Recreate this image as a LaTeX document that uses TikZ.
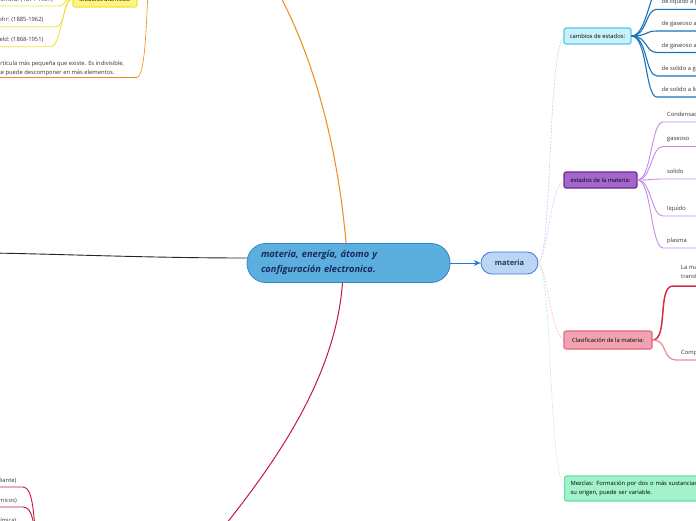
\documentclass[tikz,border=0pt]{standalone}
\usepackage{fontspec}
\setmainfont{Open Sans}
\usepackage{xcolor}
\usetikzlibrary{arrows.meta, positioning}

\definecolor{corefill}{HTML}{5BAFDE}
\definecolor{coreedge}{HTML}{2E86C1}
\definecolor{corenavy}{HTML}{1B2A5C}
\definecolor{hubfill}{HTML}{BDD5F5}
\definecolor{hubedge}{HTML}{3579DE}
\definecolor{hubtext}{HTML}{1D3C57}
\definecolor{arrowblue}{HTML}{1C78E3}
\definecolor{cyanfill}{HTML}{C8F1FC}
\definecolor{cyanedge}{HTML}{58C5EC}
\definecolor{cambline}{HTML}{1A72B8}
\definecolor{cyanlink}{HTML}{A6DCF2}
\definecolor{purplefill}{HTML}{A465CC}
\definecolor{purpleedge}{HTML}{6A2B8E}
\definecolor{estline}{HTML}{C48CEA}
\definecolor{purplelink}{HTML}{E2C9F2}
\definecolor{pinkfill}{HTML}{F2A3B1}
\definecolor{pinkedge}{HTML}{E5657D}
\definecolor{redtwig}{HTML}{D92B4B}
\definecolor{pinktwig}{HTML}{F28A9E}
\definecolor{pinklink}{HTML}{F7C2CB}
\definecolor{mintfill}{HTML}{A2F2CB}
\definecolor{mintedge}{HTML}{66DDAA}
\definecolor{mintlink}{HTML}{B5EFD6}
\definecolor{atomorange}{HTML}{F08A1C}
\definecolor{modelyellow}{HTML}{F1E33F}
\definecolor{modelfill}{HTML}{FFF47F}
\definecolor{crimson}{HTML}{C4173C}
\definecolor{leafgray}{HTML}{333333}

\newcommand{\leaffont}{\fontsize{5.8}{9}\selectfont}

\begin{document}
\begin{tikzpicture}[x=1pt, y=-1pt,
    >={Stealth[length=2.4mm, width=2mm]},
    core/.style={draw=coreedge, fill=corefill, line width=.8pt,
                 rounded corners=19pt, minimum width=203pt, minimum height=39pt,
                 text width=175pt, align=left, inner sep=0pt, text=corenavy,
                 font=\fontsize{9.3}{15}\selectfont\bfseries\itshape},
    hub/.style={draw=hubedge, fill=hubfill, line width=.8pt, rounded corners=11pt,
                minimum width=57pt, minimum height=22pt, inner sep=0pt,
                text=hubtext, font=\fontsize{7.4}{9}\selectfont\bfseries},
    topic/.style={rounded corners=2pt, line width=1.1pt, minimum height=16pt,
                  inner sep=0pt, text=black, font=\leaffont},
    leaf/.style={anchor=base west, inner sep=0pt, font=\leaffont, text=leafgray},
    twig/.style={line width=1.1pt},
    link/.style={dash pattern=on 2pt off 1.2pt, line width=.6pt},
]
  \fill[white] (0,0) rectangle (696,520);
  \useasboundingbox (0,0) rectangle (696,520);

  % main branches
  \node[core] (core) at (348.5,263) {materia, energía, átomo y\\configuración electronica.};
  \node[hub] (materia) at (509.5,263) {materia};
  \coordinate (atomo) at (278,-8);
  \coordinate (energia) at (-10,253);
  \coordinate (config) at (226,524);
  \draw[atomorange, line width=1pt] (core.97) .. controls (338,150) and (315,60) .. (atomo);
  \draw[black!85, line width=.9pt] ([yshift=5pt]core.west) .. controls (150,258) and (60,254) .. (energia);
  \draw[crimson, line width=1pt] ([xshift=-6pt]core.south) .. controls (336,370) and (285,450) .. (config);
  \draw[->, arrowblue, line width=1pt] (core.east) -- (materia.west);

  % materia topics
  \node[topic, fill=cyanfill, draw=cyanedge, minimum width=67pt] (cambios) at (597.5,36) {cambios de estados:};
  \node[topic, fill=purplefill, draw=purpleedge, minimum width=73pt] (estados) at (600.5,180) {estados de la materia:};
  \node[topic, fill=pinkfill, draw=pinkedge, minimum width=88pt, minimum height=18pt] (clasif) at (608,340) {Clasificación de la materia:};
  \node[topic, fill=mintfill, draw=mintedge, anchor=west, minimum height=25pt,
        text width=150pt, align=left, inner xsep=6pt] (mezclas) at (564,488.5)
        {Mezclas: Formación por dos o más sustancias\\su origen, puede ser variable.};
  \draw[link, cyanlink] (materia.east) .. controls +(14,-13) and +(-16,24) .. (cambios.west);
  \draw[link, purplelink] (materia.east) .. controls +(10,-10) and +(-14,12) .. (estados.west);
  \draw[link, pinklink] (materia.east) .. controls +(10,10) and +(-14,-12) .. (clasif.west);
  \draw[link, mintlink] (materia.east) .. controls +(14,14) and +(-16,-30) .. (mezclas.west);

  % cambios de estados
  \coordinate (c0) at (662,-16);
  \coordinate (c1) at (657,9.3);
  \coordinate (c2) at (657,31);
  \coordinate (c3) at (657,52.5);
  \coordinate (c4) at (657,76);
  \coordinate (c5) at (657,97);
  \node[leaf] (liqgas) at (661.5,3.8) {de liquido a gaseoso};
  \node[leaf] (gasliq) at (661.5,25.5) {de gaseoso a liquido};
  \node[leaf] (gassol) at (661.5,47) {de gaseoso a solido};
  \node[leaf] (solgas) at (661.5,70.5) {de solido a gaseoso};
  \node[leaf] (solliq) at (661.5,91.5) {de solido a liquido};
  \draw[twig, cambline] (cambios.east) .. controls +(16,0) and +(-12,0) .. (c0);
  \draw[twig, cambline] (cambios.east) .. controls +(16,0) and +(-12,0) .. (c1) -- ++(50,0);
  \draw[twig, cambline] (cambios.east) .. controls +(16,0) and +(-12,0) .. (c2) -- ++(50,0);
  \draw[twig, cambline] (cambios.east) .. controls +(16,0) and +(-12,0) .. (c3) -- ++(50,0);
  \draw[twig, cambline] (cambios.east) .. controls +(16,0) and +(-12,0) .. (c4) -- ++(50,0);
  \draw[twig, cambline] (cambios.east) .. controls +(16,0) and +(-12,0) .. (c5) -- ++(50,0);

  % estados de la materia
  \coordinate (e1) at (663,122);
  \coordinate (e2) at (663,146.5);
  \coordinate (e3) at (663,179);
  \coordinate (e4) at (663,216);
  \coordinate (e5) at (663,248);
  \node[leaf] (condensado) at (667,116.3) {Condensado de Bose-Einstein};
  \node[leaf] (gaseoso) at (667,140.5) {gaseoso};
  \node[leaf] (solido) at (667,173) {solido};
  \node[leaf] (liquido) at (667,210) {liquido};
  \node[leaf] (plasma) at (667,242.5) {plasma};
  \draw[estline, line width=.9pt] (estados.east) .. controls +(14,0) and +(-12,0) .. (e1) -- ++(40,0);
  \draw[estline, line width=.9pt] (estados.east) .. controls +(14,0) and +(-12,0) .. (e2) -- ++(40,0);
  \draw[estline, line width=.9pt] (estados.east) .. controls +(14,0) and +(-12,0) .. (e3) -- ++(40,0);
  \draw[estline, line width=.9pt] (estados.east) .. controls +(14,0) and +(-12,0) .. (e4) -- ++(40,0);
  \draw[estline, line width=.9pt] (estados.east) .. controls +(14,0) and +(-12,0) .. (e5) -- ++(40,0);

  % clasificacion
  \coordinate (k1) at (673,286);
  \coordinate (k2) at (677,360);
  \node[leaf, align=left, anchor=north west] (ley) at (681,264.5) {La materia no se crea ni se destruye, solo se\\transforma.};
  \node[leaf] (compuestos) at (681,354.5) {Compuestos};
  \draw[redtwig, line width=1.5pt] (clasif.east) .. controls +(16,0) and +(-16,0) .. (k1) -- ++(30,0);
  \draw[pinktwig, line width=1.3pt] (clasif.east) .. controls +(16,0) and +(-16,0) .. (k2) -- ++(30,0);

  % atomo (arriba a la izquierda)
  \node[topic, fill=modelfill, draw=modelyellow, minimum width=64pt] (modelos) at (105,-1) {Modelos atómicos:};
  \coordinate (m1) at (57,6);
  \coordinate (m2) at (56,26.7);
  \coordinate (m3) at (51,46.7);
  \node[leaf, anchor=base east] (rutherford) at (53,1.2) {Rutherford: (1871-1937)};
  \node[leaf, anchor=base east] (bohr) at (43.5,21.7) {Niels Bohr: (1885-1962)};
  \node[leaf, anchor=base east] (sommerfeld) at (43.5,41.7) {Sommerfeld: (1868-1951)};
  \draw[modelyellow, line width=.9pt] (modelos.west) .. controls +(-10,0) and +(10,0) .. (m1) -- ++(-70,0);
  \draw[modelyellow, line width=.9pt] (modelos.west) .. controls +(-10,0) and +(10,0) .. (m2) -- ++(-70,0);
  \draw[modelyellow, line width=.9pt] (modelos.west) .. controls +(-10,0) and +(10,0) .. (m3) -- ++(-70,0);
  \coordinate (a1) at (137,77.5);
  \coordinate (atomoup) at (148,-8);
  \node[leaf, anchor=south, align=center] (particula) at (52,76)
        {Es la partícula más pequeña que existe. Es indivisible,\\no se puede descomponer en más elementos.};
  \draw[atomorange, line width=.6pt] (atomoup) .. controls (146,30) and (145,75) .. (a1) -- ++(-150,0);

  % configuracion (abajo a la izquierda)
  \coordinate (r0) at (36,545);
  \coordinate (r1) at (23,487);
  \coordinate (r2) at (23,507);
  \coordinate (r3) at (23,527);
  \node[leaf, anchor=base east] (radiante) at (16.5,482) {(energía radiante)};
  \node[leaf, anchor=base east] (quimicos) at (17,502) {(procesos químicos)};
  \node[leaf, anchor=base east] (quimica) at (16.5,522) {(energía química)};
  \draw[crimson, line width=.9pt] (r0) .. controls +(-2,-30) and +(10,0) .. (r1) -- ++(-40,0);
  \draw[crimson, line width=.9pt] (r0) .. controls +(-2,-20) and +(10,0) .. (r2) -- ++(-40,0);
  \draw[crimson, line width=.9pt] (r0) .. controls +(-2,-10) and +(10,0) .. (r3) -- ++(-40,0);
\end{tikzpicture}
\end{document}
